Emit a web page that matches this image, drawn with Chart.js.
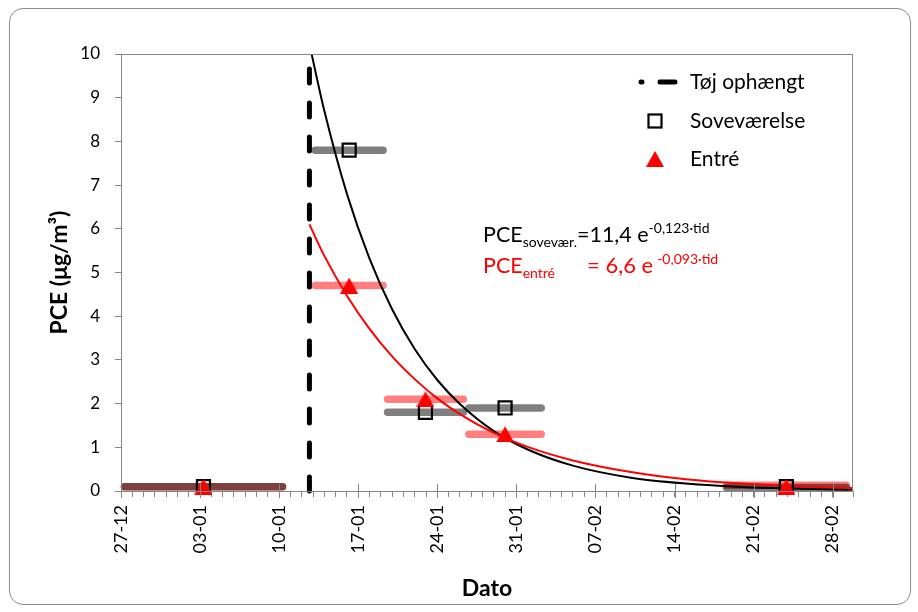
<!DOCTYPE html>
<html lang="da">
<head>
<meta charset="UTF-8">
<script src="https://cdn.jsdelivr.net/npm/chart.js@4.4.1/dist/chart.umd.min.js"></script>
<style>
    body { margin: 0; background: #fff; }
    #wrap { position: relative; width: 918px; height: 612px; }
    #frame {
        position: absolute;
        left: 9px; top: 8px;
        width: 900px; height: 595px;
        border: 1px solid #8c8c8c;
        border-radius: 14px;
        pointer-events: none;
    }
    canvas { position: absolute; left: 0; top: 0; }
</style>
<title>PCE</title>
</head>
<body>
<div id="wrap">
    <canvas id="chart" width="918" height="612"></canvas>
    <div id="frame"></div>
</div>
<script>
// x values are days counted from 27-12
const tickLabels = ['27-12', '03-01', '10-01', '17-01', '24-01', '31-01', '07-02', '14-02', '21-02', '28-02'];

const sampleDays = [7.3, 20.2, 26.95, 34.0, 58.9];
const sovevaerelse = [0.1, 7.8, 1.8, 1.9, 0.1];
const entre = [0.1, 4.7, 2.1, 1.3, 0.1];

// sampling periods (horizontal bars)
const periodStart = [0.3, 17.2, 23.6, 30.8, 53.6];
const periodEnd = [14.3, 23.2, 30.3, 37.2, 64.2];
const sovBarLevel = [0.1, 7.8, 1.8, 1.9, 0.08];
const entreBarLevel = [0.1, 4.7, 2.1, 1.3, 0.13];

// clothes hung up
const hungDay = 16.68;
const hungTop = 9.75;

// fitted curves
const fitDays = [16.68, 18, 20, 22, 24, 26, 28, 30, 33, 36, 40, 45, 50, 55, 60, 64.8];
const fitSov = [10.23, 8.70, 6.80, 5.32, 4.16, 3.25, 2.54, 1.99, 1.37, 0.95, 0.58, 0.31, 0.17, 0.09, 0.05, 0.03];
const fitEntre = [6.10, 5.38, 4.47, 3.71, 3.08, 2.56, 2.12, 1.76, 1.33, 1.01, 0.70, 0.44, 0.27, 0.17, 0.11, 0.07];

const FONT = 'Lato, "Open Sans", sans-serif';
const AXIS = '#868686';
const RED = '#ff0000';

function toPoints(xs, ys) {
    return xs.map((x, i) => ({ x: x, y: ys[i] }));
}

// triangle marker centred on its box
const tri = document.createElement('canvas');
tri.width = 18; tri.height = 16;
(function () {
    const c = tri.getContext('2d');
    c.fillStyle = RED;
    c.beginPath();
    c.moveTo(9, 0);
    c.lineTo(18, 16);
    c.lineTo(0, 16);
    c.closePath();
    c.fill();
})();

const datasets = [];

datasets.push({
    label: 'Entré',
    data: toPoints(sampleDays, entre),
    showLine: false,
    pointStyle: tri,
    pointRadius: 8,
    clip: false,
    order: 0
});
datasets.push({
    label: 'Soveværelse',
    data: toPoints(sampleDays, sovevaerelse),
    showLine: false,
    pointStyle: 'rect',
    pointRadius: 9.2,
    pointBorderWidth: 2.2,
    pointBorderColor: '#000',
    pointBackgroundColor: 'rgba(0,0,0,0)',
    clip: false,
    order: 1
});
datasets.push({
    label: 'Tøj ophængt',
    data: [{ x: hungDay, y: 0 }, { x: hungDay, y: hungTop }],
    borderColor: '#000',
    borderWidth: 5,
    borderDash: [14, 20],
    borderCapStyle: 'round',
    pointRadius: 0,
    clip: false,
    order: 2
});
datasets.push({
    label: 'fit entré',
    data: toPoints(fitDays, fitEntre),
    borderColor: RED,
    borderWidth: 2,
    cubicInterpolationMode: 'monotone',
    pointRadius: 0,
    order: 3
});
datasets.push({
    label: 'fit soveværelse',
    data: toPoints(fitDays, fitSov),
    borderColor: '#000',
    borderWidth: 2,
    cubicInterpolationMode: 'monotone',
    pointRadius: 0,
    order: 4
});
for (let i = 0; i < periodStart.length; i++) {
    datasets.push({
        label: 'periode sov ' + i,
        data: [{ x: periodStart[i], y: sovBarLevel[i] }, { x: periodEnd[i], y: sovBarLevel[i] }],
        borderColor: 'rgba(0,0,0,0.5)',
        borderWidth: 7.5,
        borderCapStyle: 'round',
        pointRadius: 0,
        clip: false,
        order: 5
    });
    datasets.push({
        label: 'periode entré ' + i,
        data: [{ x: periodStart[i], y: entreBarLevel[i] }, { x: periodEnd[i], y: entreBarLevel[i] }],
        borderColor: 'rgba(255,0,0,0.5)',
        borderWidth: 7.5,
        borderCapStyle: 'round',
        pointRadius: 0,
        clip: false,
        order: 6
    });
}

function drawRich(ctx, x, y, parts) {
    for (const p of parts) {
        ctx.font = p.size + 'px ' + FONT;
        ctx.fillText(p.text, x, y + (p.dy || 0));
        x += ctx.measureText(p.text).width + (p.gap || 0);
    }
    return x;
}

const extras = {
    id: 'extras',
    afterDraw(chart) {
        const ctx = chart.ctx;
        const a = chart.chartArea;
        const xs = chart.scales.x;
        ctx.save();

        // plot border
        ctx.strokeStyle = AXIS;
        ctx.lineWidth = 1;
        ctx.strokeRect(a.left + 0.5, a.top + 0.5, a.right - a.left - 1, a.bottom - a.top);

        // major ticks cross the axis
        ctx.beginPath();
        for (let k = 0; k < tickLabels.length; k++) {
            const px = Math.round(xs.getPixelForValue(k * 7)) + 0.5;
            ctx.moveTo(px, a.bottom - 7);
            ctx.lineTo(px, a.bottom + 7);
        }
        ctx.stroke();

        // legend
        ctx.textBaseline = 'middle';
        ctx.textAlign = 'left';
        ctx.fillStyle = '#000';
        ctx.strokeStyle = '#000';
        ctx.lineCap = 'round';
        ctx.lineWidth = 5;
        ctx.beginPath();
        ctx.moveTo(641, 82); ctx.lineTo(642, 82);
        ctx.moveTo(660, 82); ctx.lineTo(675, 82);
        ctx.stroke();
        ctx.lineCap = 'butt';
        ctx.lineWidth = 2.2;
        ctx.strokeRect(648.5, 114.5, 13, 13);
        ctx.drawImage(tri, 646, 151);
        ctx.font = '21px ' + FONT;
        ctx.fillText('Tøj ophængt', 690, 82);
        ctx.fillText('Soveværelse', 690, 121);
        ctx.fillText('Entré', 690, 159);

        // equations
        ctx.textBaseline = 'alphabetic';
        ctx.fillStyle = '#000';
        drawRich(ctx, 483, 242, [
            { text: 'PCE', size: 21.5 },
            { text: 'sovevær.', size: 14, dy: 5 },
            { text: '=11,4 e', size: 21.5 },
            { text: '-0,123·tid', size: 14, dy: -9 }
        ]);
        ctx.fillStyle = RED;
        drawRich(ctx, 483, 273, [
            { text: 'PCE', size: 21.5 },
            { text: 'entré', size: 14, dy: 5 }
        ]);
        drawRich(ctx, 587, 273, [
            { text: '= 6,6 e', size: 22, gap: 4 },
            { text: '-0,093·tid', size: 14, dy: -9 }
        ]);
        ctx.restore();
    }
};

new Chart(document.getElementById('chart'), {
    type: 'line',
    data: { datasets: datasets },
    options: {
        responsive: false,
        animation: false,
        devicePixelRatio: 1,
        layout: { padding: { left: 42, top: 54, right: 65, bottom: 6 } },
        plugins: {
            legend: { display: false },
            tooltip: { enabled: false }
        },
        scales: {
            x: {
                type: 'linear',
                min: 0,
                max: 64.8,
                afterFit: (s) => { s.height = 115; },
                ticks: {
                    stepSize: 1,
                    autoSkip: false,
                    minRotation: 90,
                    maxRotation: 90,
                    padding: 8,
                    color: '#000',
                    font: { family: FONT, size: 18 },
                    callback: (v) => (Number.isInteger(v) && v % 7 === 0) ? tickLabels[v / 7] : ''
                },
                grid: { drawOnChartArea: false, tickLength: 6, color: AXIS },
                border: { color: AXIS },
                title: {
                    display: true,
                    text: 'Dato',
                    color: '#000',
                    font: { family: FONT, size: 23, weight: 'bold' }
                }
            },
            y: {
                min: 0,
                max: 10,
                afterFit: (s) => { s.width = 79; },
                ticks: {
                    stepSize: 1,
                    padding: 15,
                    color: '#000',
                    font: { family: FONT, size: 17 }
                },
                grid: { drawOnChartArea: false, tickLength: 6, color: AXIS },
                border: { color: AXIS },
                title: {
                    display: true,
                    text: 'PCE (μg/m³)',
                    color: '#000',
                    font: { family: FONT, size: 23, weight: 'bold' }
                }
            }
        }
    },
    plugins: [extras]
});
</script>
</body>
</html>
